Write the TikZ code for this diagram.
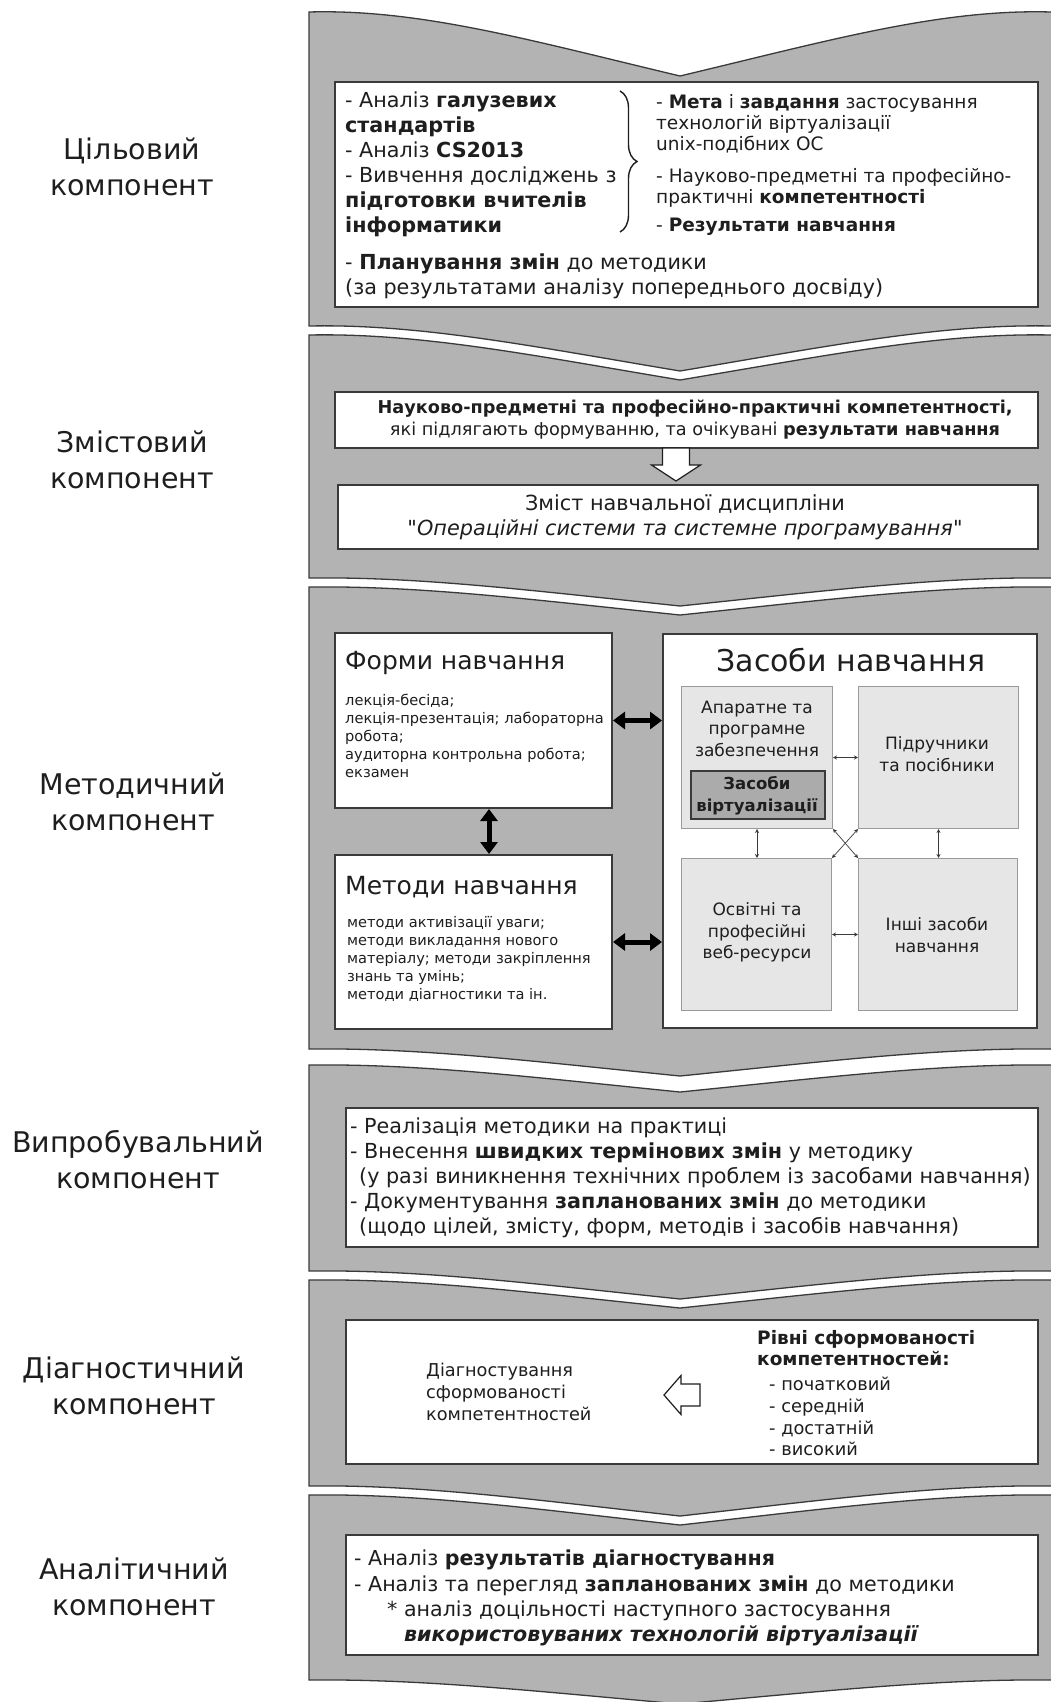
\documentclass[tikz,border=0pt]{standalone}
\usepackage{fontspec}
\setmainfont{DejaVu Sans}
\usetikzlibrary{arrows.meta,decorations.pathreplacing}
\definecolor{bandgray}{HTML}{B3B3B3}
\definecolor{edgegray}{HTML}{3A3A3A}
\definecolor{innergray}{HTML}{E6E6E6}
\definecolor{innerline}{HTML}{9A9A9A}
\definecolor{virtgray}{HTML}{ABABAB}
\definecolor{ink}{HTML}{1E1E1E}
\newcommand{\fsz}[2]{\fontsize{#1}{#2}\selectfont}
\newcommand{\sq}{{\XeTeXglyph\XeTeXcharglyph"22\relax}}
\newcommand{\bandshape}[4]{%
  \draw[band] (309,#1) .. controls (420,#1-0.05*#2) and (532,#1+0.45*#2) .. (680,#1+#2)
     .. controls (828,#1+0.45*#2) and (940,#1-0.05*#2) .. (1051,#1) -- (1066,#1) -- (1066,#3)
     -- (1051,#3) .. controls (940,#3-0.05*#4) and (828,#3+0.45*#4) .. (680,#3+#4)
     .. controls (532,#3+0.45*#4) and (420,#3-0.05*#4) .. (309,#3) -- cycle;}
\begin{document}
\begin{tikzpicture}[x=1pt,y=-1pt,
  band/.style={fill=bandgray,draw=edgegray,line width=1.3pt},
  wbox/.style={draw=edgegray,fill=white,line width=2pt,anchor=north west,inner sep=0pt},
  gbox/.style={draw=innerline,fill=innergray,line width=1pt,anchor=north west,inner sep=0pt},
  virtbox/.style={draw=edgegray,fill=virtgray,line width=1.6pt,anchor=north west,inner sep=0pt},
  lbl/.style={font=\fsz{28.5}{36},align=center,text=ink},
  txt/.style={inner sep=0pt,text=ink,align=left,anchor=north west},
  ctxt/.style={inner sep=0pt,text=ink,align=center},
  bigarrow/.style={line width=5pt,draw=black,{Triangle[width=17pt,length=12pt]}-{Triangle[width=17pt,length=12pt]}},
  smallarrow/.style={line width=0.7pt,draw=edgegray,{Stealth[width=4pt,length=4pt]}-{Stealth[width=4pt,length=4pt]}},
  hollow/.style={draw=ink,fill=white,line width=1.2pt,line join=miter}
]
\useasboundingbox (0,0) rectangle (1051,1702);
\fill[white] (0,0) rectangle (1051,1702);

% bands
\bandshape{12}{64}{326}{45}
\bandshape{335}{45}{578}{28}
\bandshape{587}{28}{1049}{27}
\bandshape{1065}{27}{1271}{28}
\bandshape{1280}{28}{1486}{30}
\bandshape{1495}{30}{1680}{24}

% left labels
\node[lbl] (l1) at (132,167) {Цільовий\\компонент};
\node[lbl] (l2) at (132,460) {Змістовий\\компонент};
\node[lbl] (l3) at (133,802) {Методичний\\компонент};
\node[lbl] (l4) at (138,1160) {Випробувальний\\компонент};
\node[lbl] (l5) at (134,1386) {Діагностичний\\компонент};
\node[lbl] (l6) at (134,1587) {Аналітичний\\компонент};

% ---- band 1
\node[wbox,minimum width=703pt,minimum height=225pt] (b1) at (334,81) {};
\node[txt,font=\fsz{20.7}{25}] (t1a) at (345,92) {- Аналіз \textbf{галузевих}\\\textbf{стандартів}\\- Аналіз \textbf{CS2013}\\- Вивчення досліджень з\\\textbf{підготовки вчителів}\\\textbf{інформатики}};
\draw[line width=1.4pt,draw=ink,decorate,decoration={brace,amplitude=17pt}] (620,91) -- (620,232);
\node[txt,font=\fsz{18.5}{21}] (t1b) at (656,94) {- \textbf{Мета} і \textbf{завдання} застосування\\технологій віртуалізації\\unix-подібних ОС};
\node[txt,font=\fsz{18.5}{21}] (t1c) at (656,168) {- Науково-предметні та професійно-\\практичні \textbf{компетентності}};
\node[txt,font=\fsz{18.5}{21}] (t1d) at (656,218) {- \textbf{Результати навчання}};
\node[txt,font=\fsz{20.7}{25}] (t1e) at (345,254) {- \textbf{Планування змін} до методики\\(за результатами аналізу попереднього досвіду)};

% ---- band 2
\node[wbox,minimum width=703pt,minimum height=56pt] (b2a) at (334,391) {};
\node[ctxt,font=\fsz{17.7}{22}] (t2a) at (695,420) {\textbf{Науково-предметні та професійно-практичні компетентності,}\\які підлягають формуванню, та очікувані \textbf{результати навчання}};
\node[wbox,minimum width=700pt,minimum height=64pt] (b2b) at (337,484) {};
\node[ctxt,font=\fsz{20.8}{25}] (t2b) at (685,517) {Зміст навчальної дисципліни\\\textit{\sq Операційні системи та системне програмування\sq}};
\coordinate (dn) at (676,448);
\draw[hollow] (dn) ++(-13.5,0) -- ++(27,0) -- ++(0,17) -- ++(11,0) -- ++(-24.5,16) -- ++(-24.5,-16) -- ++(11,0) -- cycle;

% ---- band 3
\node[wbox,minimum width=277pt,minimum height=175pt] (forms) at (334,632) {};
\node[txt,anchor=west,font=\fsz{25}{30}] (formsT) at (345,663) {Форми навчання};
\node[txt,font=\fsz{14.6}{18}] (formsB) at (345,694) {лекція-бесіда;\\лекція-презентація; лабораторна\\робота;\\аудиторна контрольна робота;\\екзамен};
\node[wbox,minimum width=277pt,minimum height=174pt] (meth) at (334,854) {};
\node[txt,anchor=west,font=\fsz{25}{30}] (methT) at (345,887) {Методи навчання};
\node[txt,font=\fsz{14.6}{18}] (methB) at (347,916) {методи активізації уваги;\\методи викладання нового\\матеріалу; методи закріплення\\знань та умінь;\\методи діагностики та ін.};
\node[wbox,minimum width=374pt,minimum height=394pt] (tools) at (662,633) {};
\node[ctxt,font=\fsz{30}{36}] (toolsT) at (851,660) {Засоби навчання};
\node[gbox,minimum width=151pt,minimum height=142pt] (hw) at (681,686) {};
\node[gbox,minimum width=160pt,minimum height=142pt] (tb) at (858,686) {};
\node[gbox,minimum width=150pt,minimum height=152pt] (web) at (681,858) {};
\node[gbox,minimum width=159pt,minimum height=152pt] (oth) at (858,858) {};
\node[virtbox,minimum width=134pt,minimum height=48pt] (virt) at (690,770) {};
\node[ctxt,font=\fsz{17}{21.5}] (hwT) at (757,728.5) {Апаратне та\\програмне\\забезпечення};
\node[ctxt,font=\bfseries\fsz{16.5}{22}] (virtT) at (757,795.5) {Засоби\\віртуалізації};
\node[ctxt,font=\fsz{17}{21.5}] (tbT) at (937,754) {Підручники\\та посібники};
\node[ctxt,font=\fsz{17}{21.5}] (webT) at (757,932.5) {Освітні та\\професійні\\веб-ресурси};
\node[ctxt,font=\fsz{17}{21.5}] (othT) at (937,935) {Інші засоби\\навчання};
\coordinate (vx) at (489,0);
\draw[bigarrow] (forms.east) -- (forms.east -| tools.west);
\draw[bigarrow] (meth.east) -- (meth.east -| tools.west);
\draw[bigarrow] (forms.south -| vx) -- (meth.north -| vx);
\draw[smallarrow] (hw.east) -- (hw.east -| tb.west);
\draw[smallarrow] (web.east) -- (web.east -| oth.west);
\draw[smallarrow] (hw.south) -- (hw.south |- web.north);
\draw[smallarrow] (tb.south) -- (tb.south |- oth.north);
\draw[smallarrow] (hw.south east) -- (oth.north west);
\draw[smallarrow] (tb.south west) -- (web.north east);

% ---- band 4
\node[wbox,minimum width=692pt,minimum height=139pt] (b4) at (345,1107) {};
\node[txt,font=\fsz{20.7}{25}] (t4) at (350,1118) {- Реалізація методики на практиці\\- Внесення \textbf{швидких термінових змін} у методику\\\hspace*{9pt}(у разі виникнення технічних проблем із засобами навчання)\\- Документування \textbf{запланованих змін} до методики\\\hspace*{9pt}(щодо цілей, змісту, форм, методів і засобів навчання)};

% ---- band 5
\node[wbox,minimum width=692pt,minimum height=144pt] (b5) at (345,1319) {};
\node[txt,font=\fsz{17.7}{21.7}] (t5a) at (426,1363) {Діагностування\\сформованості\\компетентностей};
\node[txt,font=\bfseries\fsz{18.5}{21.7}] (t5b) at (757,1330) {Рівні сформованості\\компетентностей:};
\node[txt,font=\fsz{17.8}{21.7}] (t5c) at (769,1377) {- початковий\\- середній\\- достатній\\- високий};
\coordinate (lt) at (664,1395);
\draw[hollow] (lt) -- ++(17,-19.5) -- ++(0,8.5) -- ++(19,0) -- ++(0,22) -- ++(-19,0) -- ++(0,8.5) -- cycle;

% ---- band 6
\node[wbox,minimum width=692pt,minimum height=120pt] (b6) at (345,1534) {};
\node[txt,font=\fsz{20.6}{25.3}] (t6) at (354,1550) {- Аналіз \textbf{результатів діагностування}\\- Аналіз та перегляд \textbf{запланованих змін} до методики\\\hspace*{33pt}* аналіз доцільності наступного застосування\\\hspace*{50pt}\textbf{\textit{використовуваних технологій віртуалізації}}};
\end{tikzpicture}
\end{document}
